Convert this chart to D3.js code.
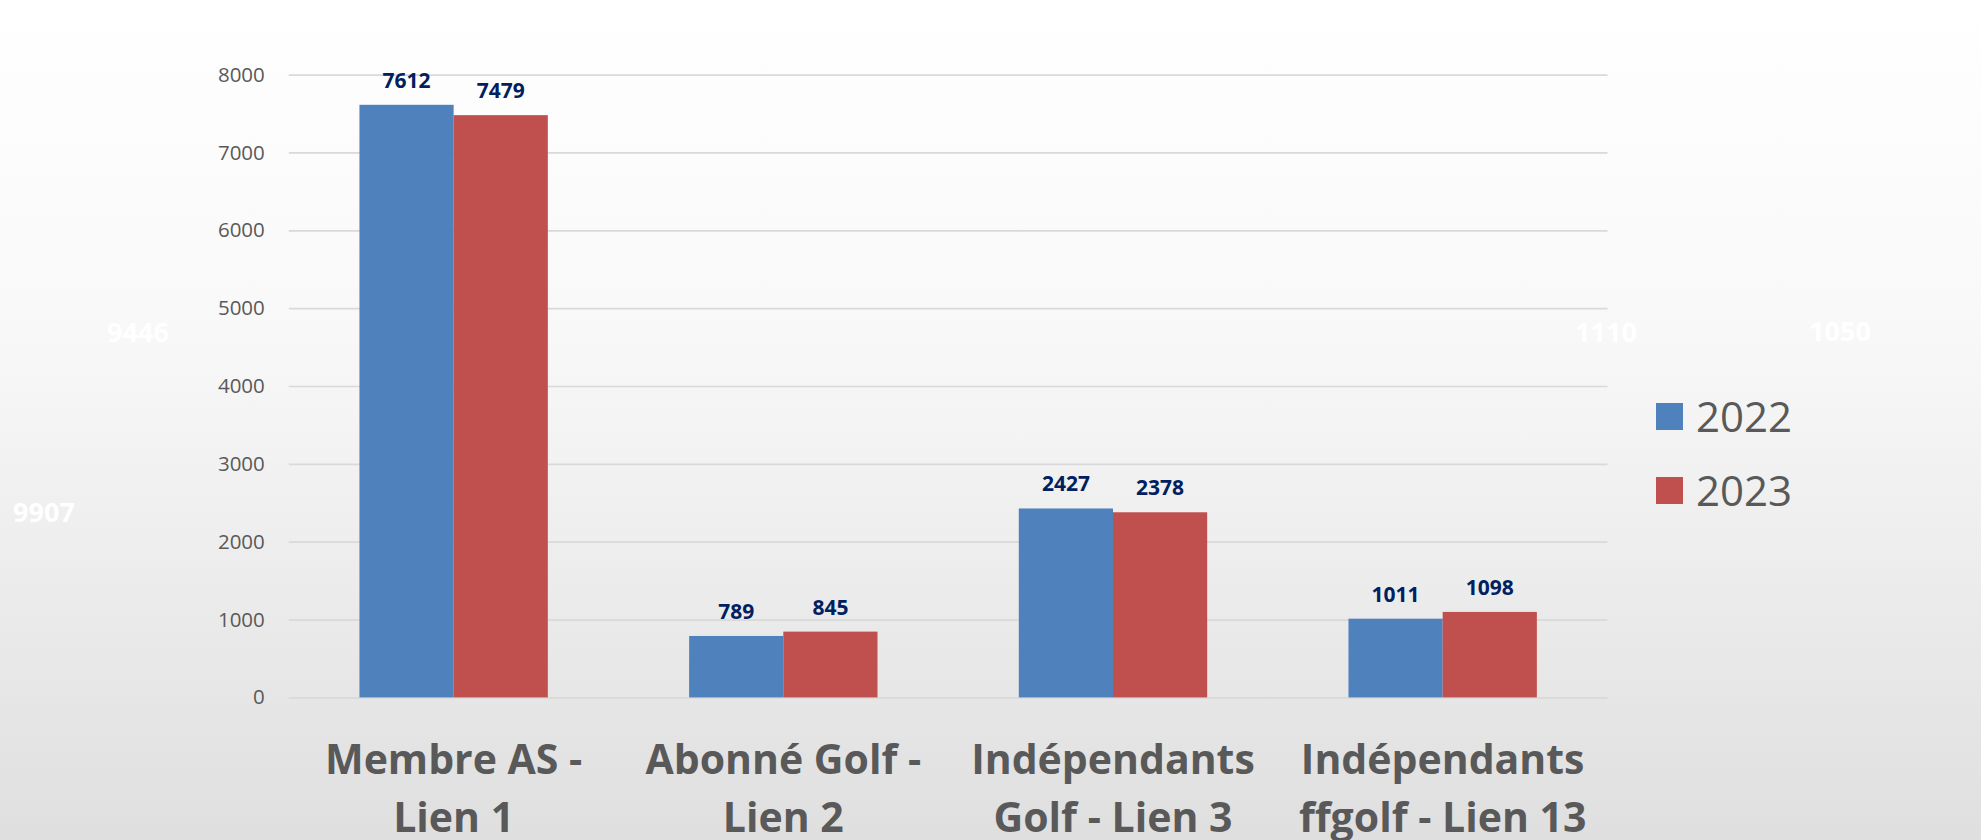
<!DOCTYPE html>
<html>
<head>
<meta charset="utf-8">
<script src="https://cdn.jsdelivr.net/npm/d3@7"></script>
<style>
  html, body { margin: 0; padding: 0; background: #fff; }
  svg { display: block; font-family: "Open Sans", "Noto Sans", sans-serif; }
</style>
</head>
<body>
<div id="container"></div>
<script>
// chart data
var categories = ["Membre AS - Lien 1", "Abonné Golf - Lien 2", "Indépendants Golf - Lien 3", "Indépendants ffgolf - Lien 13"];
var categoryLines = [["Membre AS -", "Lien 1"], ["Abonné Golf -", "Lien 2"], ["Indépendants", "Golf - Lien 3"], ["Indépendants", "ffgolf - Lien 13"]];
var series = ["2022", "2023"];
var values2022 = [7612, 789, 2427, 1011];
var values2023 = [7479, 845, 2378, 1098];
var yTicks = [0, 1000, 2000, 3000, 4000, 5000, 6000, 7000, 8000];
// faint white leftovers in the slide
var ghostLabels = ["9446", "9907", "1110", "1050"];

var colors = {"2022": "#4f81bd", "2023": "#c0504d"};

var W = 1981, H = 840;
var plot = {left: 288.8, right: 1607.5, top: 74.6, bottom: 697.4};

var svg = d3.select("#container").append("svg")
    .attr("width", W)
    .attr("height", H);

// background gradient
var grad = svg.append("defs").append("linearGradient")
    .attr("id", "bg")
    .attr("x1", 0).attr("y1", 0).attr("x2", 0).attr("y2", 1);
grad.append("stop").attr("offset", 0).attr("stop-color", "#ffffff");
grad.append("stop").attr("offset", 0.4).attr("stop-color", "#f8f8f8");
grad.append("stop").attr("offset", 1).attr("stop-color", "#dfdfdf");

svg.append("rect")
    .attr("width", W)
    .attr("height", H)
    .attr("fill", "url(#bg)");

// ghost labels (white on near white)
var ghostPos = [[138, 333], [44, 513], [1606, 333], [1840, 332]];
svg.append("g")
  .selectAll("text")
  .data(ghostLabels)
  .enter().append("text")
  .attr("x", function(d, i) { return ghostPos[i][0]; })
  .attr("y", function(d, i) { return ghostPos[i][1]; })
  .attr("dy", "0.35em")
  .attr("text-anchor", "middle")
  .attr("font-size", 27)
  .attr("font-weight", "bold")
  .attr("fill", "#ffffff")
  .text(function(d) { return d; });

// scales
var x0 = d3.scaleBand()
    .domain(categories)
    .range([plot.left, plot.right])
    .paddingInner(0.4286)
    .paddingOuter(0.2143);

var x1 = d3.scaleBand()
    .domain(series)
    .range([0, x0.bandwidth()]);

var y = d3.scaleLinear()
    .domain([0, 8000])
    .range([plot.bottom, plot.top]);

// y axis with gridlines
var yAxis = d3.axisLeft(y)
    .tickValues(yTicks)
    .tickSize(-(plot.right - plot.left))
    .tickPadding(24)
    .tickFormat(d3.format("d"));

var gy = svg.append("g")
    .attr("transform", "translate(" + plot.left + ",0)")
    .call(yAxis);
gy.select(".domain").remove();
gy.selectAll(".tick line")
    .attr("stroke", "#d9d9d9")
    .attr("stroke-width", 1.7);
gy.selectAll(".tick text")
    .attr("fill", "#595959")
    .attr("font-size", 20.5)
    .attr("font-family", "'Open Sans', sans-serif");

// rows for bars
var rows = categories.map(function(c, i) {
  return {cat: c, vals: [{s: "2022", v: values2022[i]}, {s: "2023", v: values2023[i]}]};
});

var groups = svg.append("g")
  .selectAll("g")
  .data(rows)
  .enter().append("g")
  .attr("transform", function(d) { return "translate(" + x0(d.cat) + ",0)"; });

groups.selectAll("rect")
  .data(function(d) { return d.vals; })
  .enter().append("rect")
  .attr("x", function(d) { return x1(d.s); })
  .attr("y", function(d) { return y(d.v); })
  .attr("width", x1.bandwidth())
  .attr("height", function(d) { return y(0) - y(d.v); })
  .attr("fill", function(d) { return colors[d.s]; });

// value labels
groups.selectAll("text")
  .data(function(d) { return d.vals; })
  .enter().append("text")
  .attr("x", function(d) { return x1(d.s) + x1.bandwidth() / 2; })
  .attr("y", function(d) { return y(d.v) - 17; })
  .attr("text-anchor", "middle")
  .attr("font-size", 21)
  .attr("font-weight", "bold")
  .attr("fill", "#002060")
  .text(function(d) { return d; });

groups.selectAll("text").text(function(d) { return d.v; });

// category labels (two lines)
var catText = svg.append("g")
  .selectAll("text")
  .data(categories)
  .enter().append("text")
  .attr("text-anchor", "middle")
  .attr("font-size", 41)
  .attr("font-weight", "bold")
  .attr("fill", "#595959");

catText.selectAll("tspan")
  .data(function(d, i) { return categoryLines[i]; })
  .enter().append("tspan")
  .attr("x", function() { var c = d3.select(this.parentNode).datum(); return x0(c) + x0.bandwidth() / 2; })
  .attr("y", function(d, i) { return 774 + i * 57.5; })
  .text(function(d) { return d; });

// legend
var legend = svg.append("g")
  .selectAll("g")
  .data(series)
  .enter().append("g")
  .attr("transform", function(d, i) { return "translate(1656," + (403 + i * 74) + ")"; });

legend.append("rect")
  .attr("width", 27)
  .attr("height", 27)
  .attr("fill", function(d) { return colors[d]; });

legend.append("text")
  .attr("x", 40)
  .attr("y", 29)
  .attr("font-size", 42)
  .attr("fill", "#595959")
  .text(function(d) { return d; });
</script>
</body>
</html>
